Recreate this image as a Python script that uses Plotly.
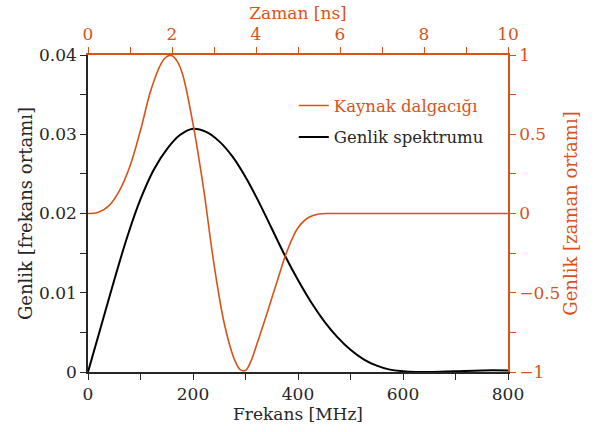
import plotly.graph_objects as go

# Frequency-domain amplitude spectrum (bottom / left axes)
freq_mhz = [0, 25, 50, 75, 100, 125, 150, 175, 200, 225, 250, 275, 300, 325,
            350, 375, 400, 425, 450, 475, 500, 525, 550, 575, 600, 625, 650,
            700, 750, 800]
spectrum = [0, 0.0058, 0.0116, 0.0171, 0.0218, 0.0255, 0.0281, 0.0299, 0.0307,
            0.0303, 0.0291, 0.0272, 0.0246, 0.0215, 0.0181, 0.0147, 0.0116,
            0.0088, 0.0064, 0.0044, 0.0028, 0.0016, 0.0008, 0.0003, 0.0001,
            0.0, 0.0, 0.0001, 0.0002, 0.0002]

# Time-domain source wavelet (top / right axes)
time_ns = [0, 0.25, 0.5, 0.75, 1.0, 1.25, 1.5, 1.75, 1.875, 2.0, 2.125, 2.25,
           2.5, 2.75, 3.0, 3.25, 3.5, 3.625, 3.75, 3.875, 4.0, 4.25, 4.5, 4.75,
           5.0, 5.25, 5.5, 5.75, 6.0, 7.0, 8.0, 9.0, 10.0]
wavelet = [0, 0.008, 0.05, 0.145, 0.30, 0.525, 0.78, 0.95, 0.99, 0.995, 0.96,
           0.88, 0.565, 0.16, -0.32, -0.70, -0.93, -0.985, -0.99, -0.935, -0.84,
           -0.64, -0.43, -0.23, -0.09, -0.025, -0.003, 0, 0, 0, 0, 0, 0]

ORANGE = "#D95319"
DARK = "#262626"
FONT = "DejaVu Serif"

fig = go.Figure()
fig.add_trace(go.Scatter(
    x=time_ns, y=wavelet, xaxis="x2", yaxis="y2", mode="lines",
    line=dict(color=ORANGE, width=1.6, shape="spline", smoothing=1.0),
    legendgroup="a",
    name=f'<span style="color:{ORANGE}">Kaynak dalgacığı</span>'))
fig.add_trace(go.Scatter(
    x=freq_mhz, y=spectrum, mode="lines",
    line=dict(color="black", width=2, shape="spline", smoothing=1.0),
    legendgroup="b",
    name="Genlik spektrumu"))

tick = dict(ticks="outside", ticklen=6, tickwidth=1.3)

fig.update_layout(
    width=597, height=432,
    margin=dict(l=88, r=89, t=53, b=56),
    paper_bgcolor="white", plot_bgcolor="white",
    font=dict(family=FONT, size=17, color=DARK),
    showlegend=True,
    legend=dict(x=0.49, y=0.895, xanchor="left", yanchor="top",
                bgcolor="rgba(0,0,0,0)", font=dict(size=16.5, color=DARK),
                traceorder="grouped", tracegroupgap=7, itemwidth=30),
    xaxis=dict(range=[0, 800], dtick=200, showgrid=False, zeroline=False,
               showline=True, linecolor=DARK, linewidth=1.5,
               tickcolor=DARK, **tick,
               minor=dict(dtick=100, tickcolor=DARK, **tick),
               title=dict(text="Frekans [MHz]", font=dict(size=17), standoff=4)),
    yaxis=dict(range=[0, 0.04], dtick=0.01, showgrid=False, zeroline=False,
               showline=True, linecolor=DARK, linewidth=1.5,
               tickcolor=DARK, **tick,
               minor=dict(dtick=0.005, tickcolor=DARK, **tick),
               title=dict(text="Genlik [frekans ortamı]", font=dict(size=18), standoff=2)),
    xaxis2=dict(range=[0, 10], dtick=2, overlaying="x", side="top",
                anchor="y", showgrid=False, zeroline=False,
                showline=True, linecolor=ORANGE, linewidth=1.5,
                tickcolor=ORANGE, **tick,
                minor=dict(dtick=1, tickcolor=ORANGE, **tick),
                tickfont=dict(color=ORANGE),
                title=dict(text="Zaman [ns]", font=dict(color=ORANGE, size=17), standoff=1)),
    yaxis2=dict(range=[-1, 1], dtick=0.5, overlaying="y", side="right",
                anchor="x", showgrid=False, zeroline=False,
                showline=True, linecolor=ORANGE, linewidth=1.5,
                tickcolor=ORANGE, **tick,
                minor=dict(dtick=0.25, tickcolor=ORANGE, **tick),
                tickfont=dict(color=ORANGE),
                title=dict(text="Genlik [zaman ortamı]", font=dict(color=ORANGE, size=18), standoff=4)),
)

fig.write_html("out.html")
